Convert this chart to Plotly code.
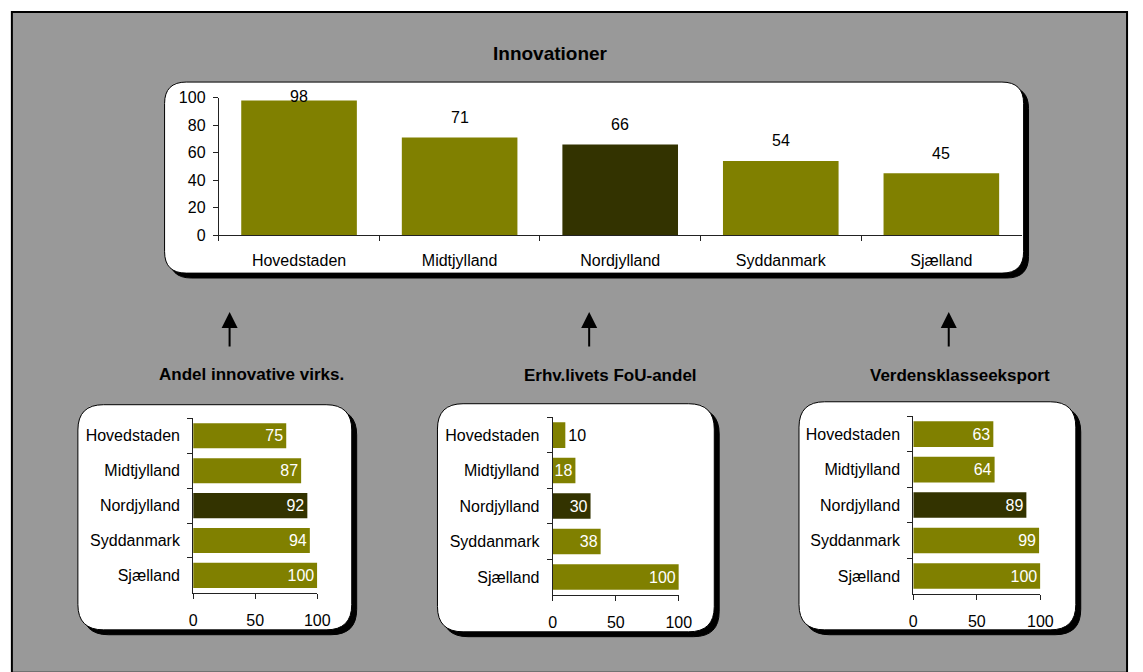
import plotly.graph_objects as go

W, H = 1143, 672

regions = ["Hovedstaden", "Midtjylland", "Nordjylland", "Syddanmark", "Sjælland"]
innovationer = [98, 71, 66, 54, 45]
andel_innovative = [75, 87, 92, 94, 100]
fou_andel = [10, 18, 30, 38, 100]
verdensklasse = [63, 64, 89, 99, 100]

titles = ["Innovationer", "Andel innovative virks.", "Erhv.livets FoU-andel", "Verdensklasseeksport"]

OLIVE = "#808000"
DARK = "#333300"
colors = [DARK if r == "Nordjylland" else OLIVE for r in regions]
FONT = "Liberation Sans, Arial, sans-serif"


def px(x):
    return x / W


def py(y):
    return 1 - y / H


def rrect(x0, y0, x1, y1, r):
    rx, ry = r / W, r / H
    X0, X1, Y0, Y1 = px(x0), px(x1), py(y0), py(y1)
    return (f"M {X0+rx},{Y0} L {X1-rx},{Y0} Q {X1},{Y0} {X1},{Y0-ry} "
            f"L {X1},{Y1+ry} Q {X1},{Y1} {X1-rx},{Y1} L {X0+rx},{Y1} "
            f"Q {X0},{Y1} {X0},{Y1+ry} L {X0},{Y0-ry} Q {X0},{Y0} {X0+rx},{Y0} Z")


fig = go.Figure()

# Top chart: Innovationer
fig.add_trace(go.Bar(x=regions, y=innovationer, marker=dict(color=colors, line=dict(width=0)),
                     xaxis="x", yaxis="y", hoverinfo="x+y"))

# Bottom charts
bottom_series = [andel_innovative, fou_andel, verdensklasse]
for i, vals in enumerate(bottom_series):
    n = i + 2
    positions = ["inside" if v >= 15 else "outside" for v in vals]
    fig.add_trace(go.Bar(
        y=regions, x=vals, orientation="h",
        marker=dict(color=colors, line=dict(width=0)),
        text=[str(v) for v in vals], textposition=positions,
        insidetextanchor="end",
        insidetextfont=dict(color="white", size=16, family=FONT),
        outsidetextfont=dict(color="black", size=16, family=FONT),
        textangle=0, constraintext="none", cliponaxis=False,
        xaxis=f"x{n}", yaxis=f"y{n}", hoverinfo="x+y"))

axis_common = dict(showline=True, linecolor="#222222", linewidth=1, showgrid=False,
                   zeroline=False, ticks="outside", ticklen=5, tickcolor="#222222",
                   tickfont=dict(size=16, color="black", family=FONT))

layout = dict(
    width=W, height=H, margin=dict(l=0, r=0, t=0, b=0),
    paper_bgcolor="white", plot_bgcolor="rgba(0,0,0,0)",
    showlegend=False, bargap=0.28,
    font=dict(family=FONT, color="black"),
    xaxis=dict(axis_common, domain=[px(218), px(1033)], type="category",
               tickson="boundaries", ticklabelstandoff=11, anchor="y"),
    yaxis=dict(axis_common, domain=[py(233), py(92)], range=[0, 100], dtick=20,
               ticklabelstandoff=4, anchor="x"),
)

bottom_geom = [
    (192, 318, 421, 600),
    (557, 685, 420, 602),
    (923, 1052, 419, 601),
]
for i, (xl, xr, yt, yb) in enumerate(bottom_geom):
    n = i + 2
    layout[f"xaxis{n}"] = dict(axis_common, domain=[px(xl), px(xr)], range=[0, 100],
                               tickvals=[0, 50, 100], ticklabelstandoff=8, anchor=f"y{n}")
    layout[f"yaxis{n}"] = dict(axis_common, domain=[py(yb), py(yt)], type="category",
                               autorange="reversed", tickson="boundaries",
                               ticklabelstandoff=9, anchor=f"x{n}")

fig.update_layout(**layout)

shapes = []
# gray background frame
shapes.append(dict(type="rect", xref="paper", yref="paper", x0=px(8), x1=px(1140),
                   y0=py(H + 10), y1=py(4), fillcolor="#999999",
                   line=dict(color="black", width=2), layer="below"))
# rounded white panels with black drop shadow
boxes = [
    (163, 76, 1035, 272, 22),
    (75, 407, 353, 638, 26),
    (440, 406, 721, 640, 26),
    (807, 404, 1088, 638, 26),
]
for (x0, y0, x1, y1, r) in boxes:
    shapes.append(dict(type="path", xref="paper", yref="paper",
                       path=rrect(x0 + 5, y0 + 5, x1 + 5, y1 + 5, r),
                       fillcolor="black", line=dict(color="black", width=1), layer="below"))
    shapes.append(dict(type="path", xref="paper", yref="paper",
                       path=rrect(x0, y0, x1, y1, r),
                       fillcolor="white", line=dict(color="black", width=1), layer="below"))
fig.update_layout(shapes=shapes)

annotations = []
# value labels above top bars
for r, v in zip(regions, innovationer):
    annotations.append(dict(x=r, y=min(v, 86), xref="x", yref="y", text=str(v),
                            showarrow=False, yshift=20, font=dict(size=16, color="black")))
# titles
title_pos = [(555, 47, 19), (251, 376, 17), (616, 377, 17), (970, 377, 17)]
for t, (x, y, s) in zip(titles, title_pos):
    annotations.append(dict(x=px(x), y=py(y), xref="paper", yref="paper",
                            xanchor="center", yanchor="middle",
                            text=f"<b>{t}</b>", showarrow=False,
                            font=dict(size=s, color="black")))
# arrows
for x in [229, 594, 959]:
    annotations.append(dict(x=px(x), y=py(312), xref="paper", yref="paper", text="",
                            showarrow=True, ax=0, ay=36, arrowhead=2, arrowsize=1.6,
                            arrowwidth=2, arrowcolor="black"))
fig.update_layout(annotations=annotations)

fig.write_html("out.html", config={"displayModeBar": False},
               post_script="document.body.style.margin='0px';document.body.style.overflow='hidden';")
